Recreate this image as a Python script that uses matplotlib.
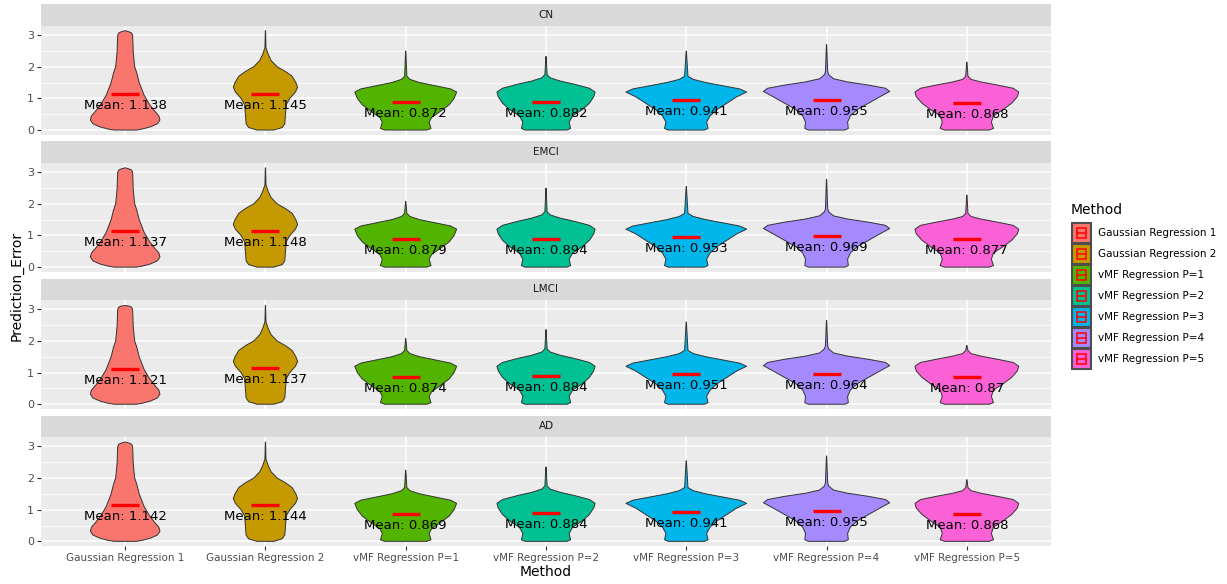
import matplotlib.pyplot as plt
from matplotlib.patches import Rectangle
import numpy as np

# ---------------- data ----------------
methods = ["Gaussian Regression 1", "Gaussian Regression 2", "vMF Regression P=1",
           "vMF Regression P=2", "vMF Regression P=3", "vMF Regression P=4",
           "vMF Regression P=5"]
groups = ["CN", "EMCI", "LMCI", "AD"]
colors = ["#F8766D", "#C49A00", "#53B400", "#00C094", "#00B6EB", "#A58AFF", "#FB61D7"]

means_cn = [1.138, 1.145, 0.872, 0.882, 0.941, 0.955, 0.868]
means_emci = [1.137, 1.148, 0.879, 0.894, 0.953, 0.969, 0.877]
means_lmci = [1.121, 1.137, 0.874, 0.884, 0.951, 0.964, 0.870]
means_ad = [1.142, 1.144, 0.869, 0.884, 0.941, 0.955, 0.868]

# highest error per method (top of the violin tail)
max_cn = [3.14, 3.14, 2.50, 2.33, 2.50, 2.70, 2.15]
max_emci = [3.14, 3.14, 2.08, 2.50, 2.55, 2.78, 2.28]
max_lmci = [3.12, 3.12, 2.08, 2.36, 2.60, 2.65, 1.86]
max_ad = [3.14, 3.14, 2.25, 2.35, 2.55, 2.70, 1.95]

# violin outlines: error level and half width (in category units)
gr1_y = [0.0, 0.03, 0.10, 0.20, 0.32, 0.45, 0.60, 0.80, 1.10, 1.50, 1.80, 2.00, 2.20, 2.50, 2.80, 3.00, 3.07, 3.10]
gr1_w = [0.08, 0.12, 0.18, 0.23, 0.248, 0.24, 0.21, 0.175, 0.135, 0.10, 0.083, 0.068, 0.063, 0.057, 0.055, 0.053, 0.045, 0.03]
gr2_y = [0.0, 0.08, 0.20, 0.50, 0.80, 1.00, 1.20, 1.35, 1.50, 1.70, 1.85, 2.00, 2.20, 2.40, 2.60]
gr2_w = [0.06, 0.12, 0.138, 0.143, 0.148, 0.174, 0.214, 0.229, 0.217, 0.19, 0.143, 0.083, 0.04, 0.019, 0.004]
p1_y = [0.0, 0.05, 0.25, 0.40, 0.60, 0.80, 1.00, 1.20, 1.30, 1.40, 1.50, 1.60, 1.70]
p1_w = [0.15, 0.18, 0.167, 0.185, 0.25, 0.31, 0.345, 0.363, 0.32, 0.21, 0.10, 0.03, 0.008]
p2_y = [0.0, 0.05, 0.25, 0.45, 0.65, 0.85, 1.05, 1.20, 1.32, 1.45, 1.55, 1.65, 1.75]
p2_w = [0.15, 0.175, 0.165, 0.19, 0.26, 0.31, 0.34, 0.35, 0.31, 0.20, 0.10, 0.03, 0.008]
p3_y = [0.0, 0.05, 0.25, 0.45, 0.65, 0.85, 1.05, 1.20, 1.30, 1.40, 1.50, 1.60, 1.70]
p3_w = [0.13, 0.155, 0.145, 0.17, 0.22, 0.29, 0.36, 0.43, 0.38, 0.26, 0.14, 0.05, 0.012]
p4_y = [0.0, 0.05, 0.25, 0.45, 0.65, 0.85, 1.05, 1.22, 1.32, 1.42, 1.52, 1.62, 1.75, 1.85]
p4_w = [0.13, 0.155, 0.15, 0.17, 0.22, 0.30, 0.38, 0.45, 0.42, 0.30, 0.15, 0.05, 0.015, 0.008]
p5_y = [0.0, 0.05, 0.25, 0.45, 0.65, 0.85, 1.05, 1.20, 1.32, 1.42, 1.52, 1.60, 1.70]
p5_w = [0.16, 0.19, 0.175, 0.19, 0.26, 0.32, 0.36, 0.37, 0.33, 0.22, 0.10, 0.03, 0.008]

# ---------------- drawing ----------------
all_means = [means_cn, means_emci, means_lmci, means_ad]
all_max = [max_cn, max_emci, max_lmci, max_ad]
profiles = [(gr1_y, gr1_w), (gr2_y, gr2_w), (p1_y, p1_w), (p2_y, p2_w),
            (p3_y, p3_w), (p4_y, p4_w), (p5_y, p5_w)]

W, H = 1227, 584
fig = plt.figure(figsize=(W / 100, H / 100), dpi=100)


def px_box(left, top, width, height):
    return [left / W, 1 - (top + height) / H, width / W, height / H]


def draw_violin(ax, pos, prof_y, prof_w, top, color):
    ys = list(prof_y)
    ws = list(prof_w)
    if ws[-1] < 0.02:
        # thin tail up to the largest value
        ys += [top - 0.01, top]
        ws += [0.001, 0.0]
    else:
        ys += [top]
        ws += [0.0]
    ys = np.array(ys)
    ws = np.array(ws)
    xs = np.concatenate([pos - ws, (pos + ws)[::-1]])
    yy = np.concatenate([ys, ys[::-1]])
    ax.fill(xs, yy, facecolor=color, edgecolor="#333333", linewidth=0.7,
            joinstyle="round", zorder=3)


panel_left, panel_w = 41, 1010
panel_tops = [25.7, 162.8, 299.9, 437.0]
panel_h = 109.3
strip_h = 21.4
positions = np.arange(1, len(methods) + 1)

for g, group in enumerate(groups):
    top = panel_tops[g]
    strip = fig.add_axes(px_box(panel_left, top - strip_h, panel_w, strip_h))
    strip.set_facecolor("#D9D9D9")
    strip.set_xticks([])
    strip.set_yticks([])
    for s in strip.spines.values():
        s.set_visible(False)
    strip.text(0.5, 0.5, group, ha="center", va="center", fontsize=7.5, color="#1A1A1A",
               transform=strip.transAxes)

    ax = fig.add_axes(px_box(panel_left, top, panel_w, panel_h))
    ax.set_facecolor("#EBEBEB")
    for s in ax.spines.values():
        s.set_visible(False)
    ax.set_xlim(0.4, 7.6)
    ax.set_ylim(-0.157, 3.297)
    ax.set_yticks([0, 1, 2, 3])
    ax.set_yticks([0.5, 1.5, 2.5], minor=True)
    ax.set_xticks(positions)
    ax.grid(which="major", color="white", linewidth=1.1, zorder=0)
    ax.grid(which="minor", axis="y", color="white", linewidth=0.55, zorder=0)
    ax.set_axisbelow(True)
    ax.tick_params(axis="y", which="major", length=3, width=0.8, color="#333333",
                   labelsize=8, labelcolor="#4D4D4D", pad=2)
    ax.tick_params(which="minor", length=0)
    if g == len(groups) - 1:
        ax.set_xticklabels(methods)
        ax.tick_params(axis="x", length=3, width=0.8, color="#333333",
                       labelsize=7.5, labelcolor="#4D4D4D", pad=2)
    else:
        ax.set_xticklabels([])
        ax.tick_params(axis="x", length=0)

    for i in range(len(methods)):
        prof_y, prof_w = profiles[i]
        draw_violin(ax, positions[i], prof_y, prof_w, all_max[g][i], colors[i])
        m = all_means[g][i]
        ax.plot([positions[i] - 0.1, positions[i] + 0.1], [m, m], color="red",
                linewidth=2.4, solid_capstyle="butt", zorder=4)
        ax.annotate(f"Mean: {round(m, 3)}", (positions[i], m), xytext=(0, -5),
                    textcoords="offset pixels", ha="center", va="top",
                    fontsize=9.5, color="black", zorder=5)

fig.text(546 / W, 1 - 572 / H, "Method", ha="center", va="center", fontsize=10)
fig.text(17 / W, 1 - 286 / H, "Prediction_Error", ha="center", va="center",
         rotation=90, fontsize=10)

# legend
leg = fig.add_axes([0, 0, 1, 1])
leg.set_xlim(0, W)
leg.set_ylim(H, 0)
leg.axis("off")
leg.text(1071, 210, "Method", ha="left", va="center", fontsize=10)
for i, name in enumerate(methods):
    ky = 223.3 + 21 * i
    leg.add_patch(Rectangle((1072, ky), 19, 20, facecolor=colors[i],
                            edgecolor="#4D4D4D", linewidth=1.5))
    leg.add_patch(Rectangle((1077, ky + 5), 9, 10, facecolor="none",
                            edgecolor="red", linewidth=1.1))
    leg.plot([1077, 1086], [ky + 10, ky + 10], color="red", linewidth=1.1)
    leg.text(1098, ky + 10, name, ha="left", va="center", fontsize=7.5)

fig.savefig("out.png", dpi=100)
